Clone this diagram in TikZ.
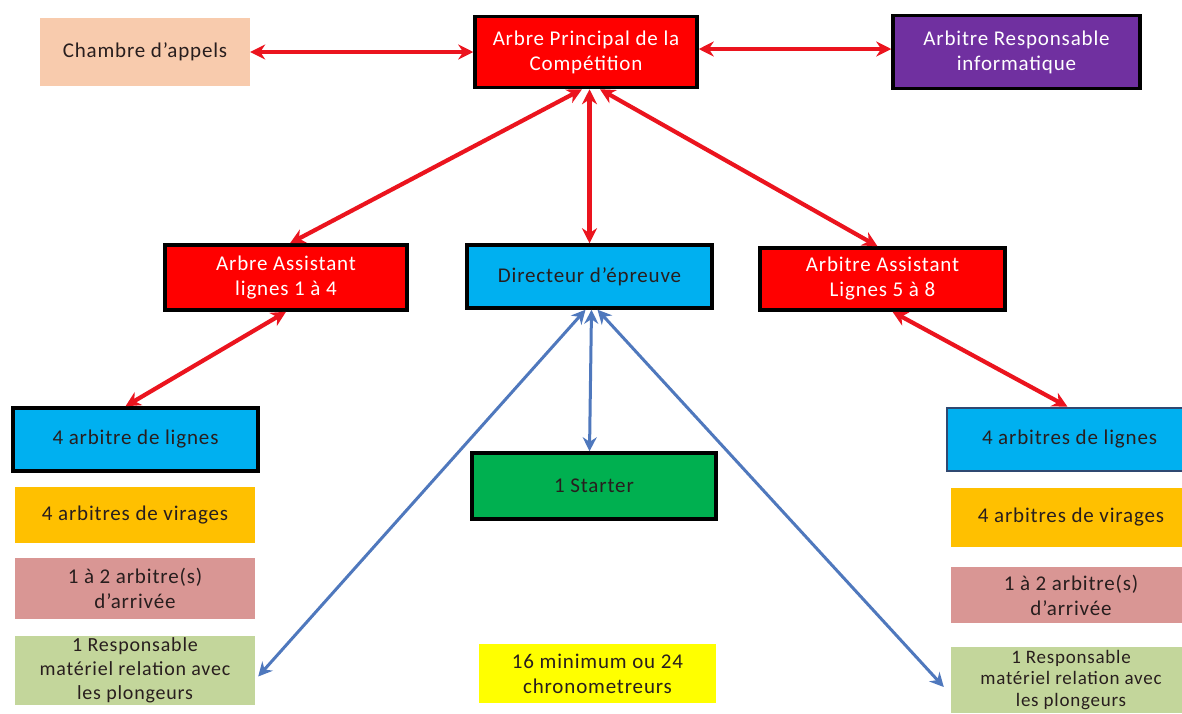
\documentclass[tikz,border=0pt]{standalone}
\usepackage{fontspec}
\setmainfont{Carlito}[LetterSpace=4]
\usetikzlibrary{arrows.meta}
\definecolor{peach}{RGB}{248,203,173}
\definecolor{redbox}{RGB}{255,0,0}
\definecolor{purplebox}{RGB}{112,48,160}
\definecolor{bluebox}{RGB}{0,176,240}
\definecolor{orangebox}{RGB}{255,192,0}
\definecolor{pinkbox}{RGB}{217,150,148}
\definecolor{greenlight}{RGB}{195,214,155}
\definecolor{greenbox}{RGB}{0,176,80}
\definecolor{yellowbox}{RGB}{255,255,0}
\definecolor{arrowred}{RGB}{235,20,30}
\definecolor{arrowblue}{RGB}{79,120,189}
\definecolor{txtdark}{RGB}{40,30,30}
\tikzset{
  box/.style={rectangle, align=center, inner sep=1pt, font=\fontsize{21}{25}\selectfont, text=txtdark},
  bordered/.style={draw=black, line width=3.5pt},
  redarrow/.style={arrowred, line width=4.2pt, {Stealth[length=15pt,width=15pt]}-{Stealth[length=15pt,width=15pt]}},
  bluearrow/.style={arrowblue, line width=3pt, {Stealth[length=14pt,width=14pt]}-{Stealth[length=14pt,width=14pt]}}
}
\begin{document}
\begin{tikzpicture}[x=1pt,y=-1pt]
\useasboundingbox[fill=white] (0,0) rectangle (1182,713);
% top row
\node[box, fill=peach, minimum width=210pt, minimum height=68pt] (chambre) at (145,52) {Chambre d'appels};
\node[box, bordered, fill=redbox, text=white, minimum width=222pt, minimum height=71pt] (principal) at (586,52) {Arbre Principal de la\\Compétition};
\node[box, bordered, fill=purplebox, text=white, minimum width=247pt, minimum height=73pt] (info) at (1016.5,52) {Arbitre Responsable\\informatique};
% second row
\node[box, bordered, fill=redbox, text=white, minimum width=242pt, minimum height=65pt] (ass1) at (286,277.5) {Arbre Assistant\\lignes 1 à 4};
\node[box, bordered, fill=bluebox, minimum width=245pt, minimum height=63pt] (dir) at (589.5,276.5) {Directeur d'épreuve};
\node[box, bordered, fill=redbox, text=white, minimum width=245pt, minimum height=62pt] (ass2) at (882.5,279) {Arbitre Assistant\\Lignes 5 à 8};
% left column
\node[box, bordered, fill=bluebox, minimum width=245pt, minimum height=63pt] (l1) at (135.5,439.5) {4 arbitre de lignes};
\node[box, fill=orangebox, minimum width=240pt, minimum height=56pt] (l2) at (135,515) {4 arbitres de virages};
\node[box, fill=pinkbox, minimum width=240pt, minimum height=61pt] (l3) at (135,588.5) {1 à 2 arbitre(s)\\d'arrivée};
\node[box, fill=greenlight, minimum width=240pt, minimum height=69pt, font=\fontsize{20}{24}\selectfont] (l4) at (135,670.5) {1 Responsable\\matériel relation avec\\les plongeurs};
% right column
\node[box, draw=arrowblue!60!black, line width=2.5pt, fill=bluebox, minimum width=245pt, minimum height=63pt] (r1) at (1069.5,439.5) {4 arbitres de lignes};
\node[box, fill=orangebox, minimum width=240pt, minimum height=59pt] (r2) at (1071,517.5) {4 arbitres de virages};
\node[box, fill=pinkbox, minimum width=240pt, minimum height=56pt] (r3) at (1071,595) {1 à 2 arbitre(s)\\d'arrivée};
\node[box, fill=greenlight, minimum width=240pt, minimum height=66pt, font=\fontsize{19}{21.5}\selectfont] (r4) at (1071,680) {1 Responsable\\matériel relation avec\\les plongeurs};
% center column
\node[box, bordered, fill=greenbox, minimum width=244pt, minimum height=66pt] (starter) at (594,486) {1 Starter};
\node[box, fill=yellowbox, minimum width=237pt, minimum height=59pt] (chrono) at (597.5,673.5) {16 minimum ou 24\\chronometreurs};
% red connectors
\draw[redarrow] (chambre.east) -- (principal.west);
\draw[redarrow] ([yshift=3pt]principal.east) -- ([yshift=3pt]info.west);
\draw[redarrow] ([xshift=-4pt]principal.south) -- ([xshift=4pt]ass1.north);
\draw[redarrow] (principal.south -| dir.north) -- (dir.north);
\draw[redarrow] ([xshift=14pt]principal.south) -- ([xshift=-5pt]ass2.north);
\draw[redarrow] (ass1.south) -- ([xshift=-10pt]l1.north);
\draw[redarrow] ([xshift=10pt]ass2.south) -- ([xshift=-2pt]r1.north);
% blue connectors
\draw[bluearrow] ([xshift=-4pt]dir.south) -- ([xshift=3pt,yshift=-6pt]l4.east);
\draw[bluearrow] ([xshift=2pt]dir.south) -- (starter.north -| dir.south);
\draw[bluearrow] ([xshift=8pt]dir.south) -- ([xshift=-7pt,yshift=-7pt]r4.west);
\end{tikzpicture}
\end{document}
